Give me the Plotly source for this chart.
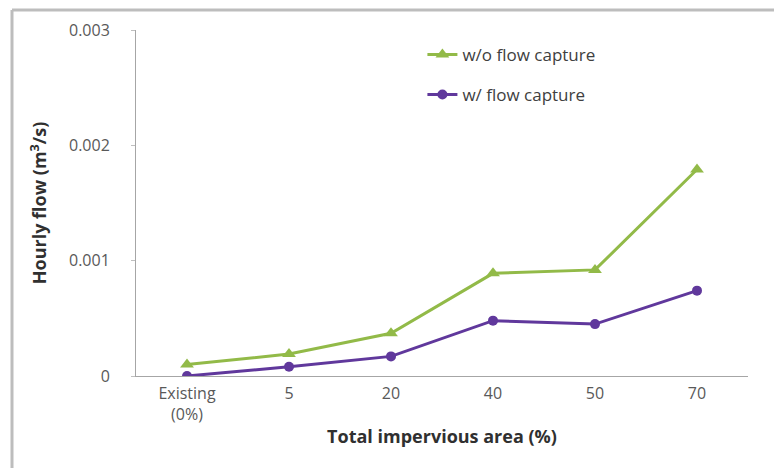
import plotly.graph_objects as go

categories = ["Existing<br>(0%)", "5", "20", "40", "50", "70"]
wo_capture = [0.00010, 0.00019, 0.00037, 0.00089, 0.00092, 0.00179]
w_capture = [0.00000, 0.00008, 0.00017, 0.00048, 0.00045, 0.00074]
y_ticks = [0, 0.001, 0.002, 0.003]
y_tick_labels = ["0", "0.001", "0.002", "0.003"]

GREEN = "#92BA48"
PURPLE = "#60389C"
FONT = "Open Sans"

L, R, T, B = 136, 26, 30, 92
PW = 774 - L - R
PH = 468 - T - B

fig = go.Figure()
fig.add_trace(go.Scatter(
    x=categories, y=wo_capture, name="w/o flow capture", mode="lines+markers",
    line=dict(color=GREEN, width=3), marker=dict(symbol="triangle-up", size=12, color=GREEN),
    legendgroup="a"))
fig.add_trace(go.Scatter(
    x=categories, y=w_capture, name="w/ flow capture", mode="lines+markers",
    line=dict(color=PURPLE, width=3), marker=dict(symbol="circle", size=10, color=PURPLE),
    legendgroup="b"))

fig.update_layout(
    width=774, height=468,
    margin=dict(l=L, r=R, t=T, b=B),
    paper_bgcolor="white", plot_bgcolor="white",
    font=dict(family=FONT, size=15, color="#595959"),
    showlegend=True,
    legend=dict(x=0.468, y=0.98, xanchor="left", yanchor="top",
                bgcolor="rgba(0,0,0,0)", tracegroupgap=15,
                font=dict(size=17, color="#404040")),
    xaxis=dict(
        type="category", range=[-0.5, 5.5], showgrid=False, showline=True,
        linecolor="#A6A6A6", linewidth=1,
        ticks="", ticklabelstandoff=3, tickfont=dict(size=16, color="#595959"),
        title=dict(text="<b>Total impervious area (%)</b>", font=dict(size=18, color="#303030"), standoff=6),
        zeroline=False),
    yaxis=dict(
        range=[0, 0.003], tickvals=y_ticks, ticktext=y_tick_labels,
        showgrid=False, showline=True, linecolor="#A6A6A6", linewidth=1,
        ticks="outside", ticklen=4, tickcolor="#BFBFBF", ticklabelstandoff=18,
        tickfont=dict(size=16, color="#595959"),
        title=dict(text="<b>Hourly flow (m<sup>3</sup>/s)</b>", font=dict(size=18, color="#303030"), standoff=17),
        zeroline=False),
    shapes=[
        dict(type="line", xref="paper", yref="paper", x0=(12 - L) / PW, x1=(780 - L) / PW,
             y0=(468 - B - 10) / PH, y1=(468 - B - 10) / PH, line=dict(color="#BDBDBD", width=3)),
        dict(type="line", xref="paper", yref="paper", x0=(12 - L) / PW, x1=(12 - L) / PW,
             y0=(468 - B - 10) / PH, y1=(468 - B - 480) / PH, line=dict(color="#BDBDBD", width=3)),
    ],
)

fig.write_html("out.html", config={"displayModeBar": False},
               post_script="document.body.style.margin='0';")
